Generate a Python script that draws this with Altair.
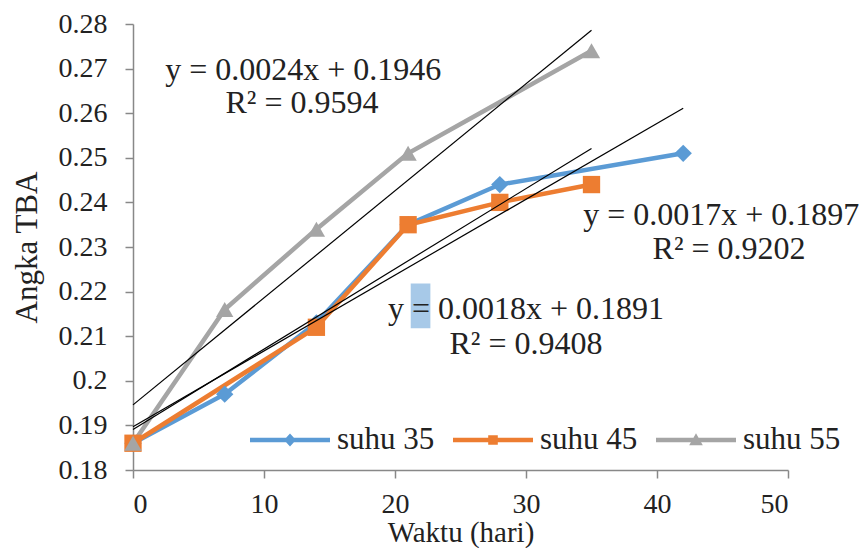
import altair as alt
import pandas as pd

# ---- data ----
series_names = ["suhu 35", "suhu 45", "suhu 55"]
colors = ["#5B9BD5", "#ED7D31", "#A5A5A5"]

days_35 = [0, 7, 14, 21, 28, 42]
tba_35 = [0.186, 0.197, 0.213, 0.235, 0.244, 0.251]
days_45 = [0, 14, 21, 28, 35]
tba_45 = [0.186, 0.212, 0.235, 0.240, 0.244]
days_55 = [0, 7, 14, 21, 35]
tba_55 = [0.186, 0.216, 0.234, 0.251, 0.274]

trend_slope = [0.0017, 0.0018, 0.0024]
trend_intercept = [0.1897, 0.1891, 0.1946]
trend_end = [42, 35, 35]

x_ticks = [0, 10, 20, 30, 40, 50]
y_ticks = [0.18, 0.19, 0.20, 0.21, 0.22, 0.23, 0.24, 0.25, 0.26, 0.27, 0.28]

ann_text = ["y = 0.0024x + 0.1946", "R\u00b2 = 0.9594",
            "y = 0.0017x + 0.1897", "R\u00b2 = 0.9202",
            "y = 0.0018x + 0.1891", "R\u00b2 = 0.9408"]
ann_x = [13.0, 12.9, 44.9, 45.5, 30.0, 30.0]
ann_y = [0.2696, 0.2622, 0.2371, 0.2296, 0.2162, 0.2082]

hl_x = [21.2]
hl_x2 = [22.7]
hl_y = [0.2118]
hl_y2 = [0.2218]

FONT = "'Liberation Serif', 'Times New Roman', serif"

# ---- tables ----
rows = []
for name, xs, ys in zip(series_names, [days_35, days_45, days_55], [tba_35, tba_45, tba_55]):
    for d, v in zip(xs, ys):
        rows.append({"series": name, "day": d, "tba": v})
df = pd.DataFrame(rows)

trows = []
for name, m, b, e in zip(series_names, trend_slope, trend_intercept, trend_end):
    for d in (0, e):
        trows.append({"series": name, "day": d, "tba": m * d + b})
tdf = pd.DataFrame(trows)

adf = pd.DataFrame({"text": ann_text, "day": ann_x, "tba": ann_y})
hdf = pd.DataFrame({"day": hl_x, "day2": hl_x2, "tba": hl_y, "tba2": hl_y2})

xs = alt.Scale(domain=[0, 50], nice=False)
ys = alt.Scale(domain=[0.18, 0.28], nice=False, zero=False)
x_enc = alt.X("day:Q", scale=xs,
              axis=alt.Axis(values=x_ticks, title="Waktu (hari)", labelPadding=12,
                            labelFont=FONT, titleFont=FONT,
                            titlePadding=0, titleFontSize=29))
y_enc = alt.Y("tba:Q", scale=ys,
              axis=alt.Axis(values=y_ticks, format=".2~f", title="Angka TBA", labelPadding=18,
                            labelFont=FONT, titleFont=FONT,
                            titlePadding=15, titleFontSize=31))

col_scale = alt.Scale(domain=series_names, range=colors)

lines = alt.Chart(df).mark_line(strokeWidth=4.5).encode(
    x=x_enc, y=y_enc,
    color=alt.Color("series:N", scale=col_scale, legend=None),
    order="day:Q",
)

points = alt.Chart(df).mark_point(filled=True, opacity=1).encode(
    x="day:Q", y="tba:Q",
    color=alt.Color("series:N", scale=col_scale, legend=None),
    shape=alt.Shape("series:N", scale=alt.Scale(domain=series_names,
                                                range=["diamond", "square", "triangle-up"]), legend=None),
    size=alt.Size("series:N", scale=alt.Scale(domain=series_names, range=[300, 300, 280]), legend=None),
)

trend = alt.Chart(tdf).mark_line(color="black", strokeWidth=1.2).encode(
    x="day:Q", y="tba:Q", detail="series:N"
)

legend_paths = [
    "M-1,-0.055H1V0.055H-1Z M0,-0.16L0.15,0L0,0.16L-0.15,0Z",
    "M-1,-0.055H1V0.055H-1Z M-0.12,-0.12H0.12V0.12H-0.12Z",
    "M-1,-0.055H1V0.055H-1Z M0,-0.17L0.17,0.13L-0.17,0.13Z",
]
leg_cfg = dict(orient="none", legendX=117, legendY=376, direction="horizontal", title=None,
               symbolSize=6400, labelFont=FONT, labelFontSize=31, labelColor="#222",
               labelOffset=7, columnPadding=18, symbolOpacity=1, symbolStrokeWidth=0)
legend_layer = alt.Chart(df).transform_filter("false").mark_point(filled=True, opacity=1).encode(
    x="day:Q", y="tba:Q",
    color=alt.Color("series:N", scale=alt.Scale(domain=series_names, range=colors),
                    legend=alt.Legend(**leg_cfg)),
    shape=alt.Shape("series:N", scale=alt.Scale(domain=series_names, range=legend_paths),
                    legend=alt.Legend(**leg_cfg)),
)

hl = alt.Chart(hdf).mark_rect(color="#9DC3E6", opacity=0.9).encode(
    x="day:Q", x2="day2:Q", y="tba:Q", y2="tba2:Q"
)

ann = alt.Chart(adf).mark_text(font=FONT, fontSize=32, color="#222", align="center", baseline="middle").encode(
    x="day:Q", y="tba:Q", text="text:N"
)

chart = alt.layer(lines, points, trend, legend_layer, hl, ann).resolve_scale(
    color="independent", shape="independent", size="independent"
).properties(
    width=655, height=446,
    background="white",
    autosize=alt.AutoSizeParams(type="none"),
    padding={"left": 125, "top": 16, "right": 72, "bottom": 78},
).configure_view(stroke=None).configure_axis(
    grid=False, domainColor="#888888", domainWidth=1.5, tickColor="#888888", tickWidth=1.5,
    tickSize=8, labelFont=FONT, labelFontSize=28, labelColor="#222",
    titleFont=FONT, titleFontWeight="normal", titleColor="#222",
).configure_legend(labelFont=FONT)

chart.save("out.html", embed_options={"renderer": "svg", "actions": False})
